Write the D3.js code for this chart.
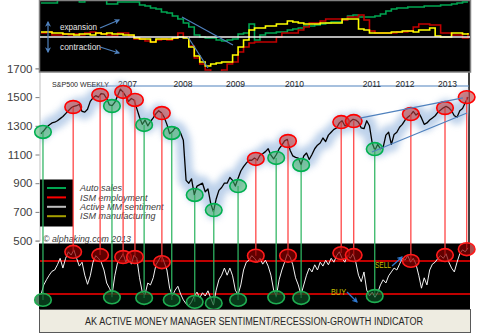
<!DOCTYPE html>
<html><head><meta charset="utf-8">
<script src="https://cdn.jsdelivr.net/npm/d3@7"></script>
<style>html,body{margin:0;padding:0;background:#fff;} svg{display:block;}</style>
</head><body><svg id="c" width="480" height="333"></svg>
<script>
// ---------------- DATA ----------------
const startYear = 2006.55;            // first sample (mid-July 2006)
// S&P 500, two samples per month
const sp500 = [1245,1265,1290,1305,1320,1325,1335,1350,1365,1385,1405,1425,1435,1440,1450,1400,1395,1415,1470,1495,
 1510,1500,1525,1520,1490,1445,1440,1465,1510,1555,1535,1505,1470,1490,1480,1420,1360,1310,1340,1300,
 1330,1355,1385,1405,1390,1360,1310,1245,1260,1285,1280,1250,1200,920,900,930,820,880,890,900,
 840,860,760,700,790,850,870,900,900,940,920,880,935,985,1015,1040,1060,1060,1075,1060,
 1095,1105,1120,1140,1095,1070,1100,1140,1165,1195,1205,1130,1090,1080,1075,1030,1090,1110,1065,1100,
 1140,1165,1180,1215,1190,1235,1255,1275,1285,1320,1335,1300,1310,1330,1345,1340,1325,1285,1280,1335,
 1300,1180,1130,1170,1140,1150,1235,1255,1170,1240,1255,1290,1310,1340,1360,1375,1400,1375,1390,1355,
 1310,1320,1340,1355,1370,1395,1410,1425,1435,1425,1405,1370,1360,1405,1420,1460,1500];
// Active money manager sentiment oscillator (0-100), same sampling
const mmSentiment = [22,37,45,52,58,60,68,78,63,78,88,83,91,78,66,72,52,38,51,72,
 82,78,72,60,40,32,23,52,72,78,85,72,82,69,83,78,48,26,22,40,
 37,48,68,75,83,72,60,32,20,29,35,23,14,8,5,11,20,26,17,25,
 20,28,17,6,29,45,52,63,52,63,51,29,22,37,60,72,75,82,78,72,
 78,69,75,66,52,29,20,45,60,72,85,80,68,48,37,22,37,52,63,57,
 68,60,72,66,75,68,78,72,82,88,78,72,83,78,85,72,52,42,57,29,
 20,26,18,25,37,45,40,51,57,63,60,69,78,75,82,72,78,69,52,32,
 48,37,60,69,72,78,82,78,85,72,63,57,72,85,91,88,94];
// Top panel indicators, one sample per month (0 = white line)
const autoSales = [34,34,34,39,39,39,39,35,39,39,39,38,33,33,35,35,35,35,32,31,
 29,28,25,24,21,18,14,10,2,0,-1,-1,-3,-4,-3,-2,3,4,13,-3,
 2,4,4,5,5,7,8,9,11,11,12,13,14,15,15,17,21,22,20,20,
 20,21,23,26,28,29,29,30,30,30,31,31,31,32,32,33,34,35,35];
const ismEmployment = [4,5,2,2,3,2,3,2,4,5,4,3,2,1,4,4,1,-2,-2,-4,
 -5,-3,-2,-3,-1,4,0,-9,-21,-27,-33,-35,-35,-33,-27,-25,-15,-10,-6,-5,
 -5,-5,-5,0,4,4,4,7,10,14,14,16,18,18,18,17,20,20,22,17,
 6,4,4,4,4,5,5,6,10,13,13,12,12,4,4,2,2,-1,4];
const ismManufacturing = [5,5,4,4,3,3,2,3,3,2,4,3,4,3,3,2,2,-1,-2,-2,
 -5,-2,-2,-2,-1,0,-1,-10,-19,-25,-29,-27,-26,-25,-25,-18,-10,-3,7,9,
 9,11,11,13,13,16,15,14,13,13,13,14,14,14,14,18,18,18,8,7,
 4,4,4,4,5,5,6,6,5,7,7,9,1,0,0,4,4,3,4];
// Signals
const signalTime = [2006.58,2007.04,2007.45,2007.63,2007.80,2007.98,2008.12,2008.39,2008.54,2008.89,2009.18,
 2009.55,2009.82,2010.13,2010.31,2010.51,2011.12,2011.31,2011.63,2012.18,2012.70,2013.03];
const signalType = ["buy","sell","sell","buy","sell","sell","buy","sell","buy","buy","buy",
 "buy","sell","buy","sell","buy","sell","sell","buy","sell","sell","sell"];
const signalSP = [1257,1431,1515,1438,1536,1480,1306,1389,1250,818,713,880,1069,1076,1194,1027,1326,1333,1138,1382,1424,1500];
const signalOsc = [14,88,83,18,80,80,17,72,14,11,9,14,82,18,82,17,86,83,20,74,83,92];
const sellLevel = 74, buyLevel = 23;
// Wedge trend lines [time, value]
const wedgeUpper = [[2011.405,1354],[2012.973,1494]];
const wedgeLower = [[2011.588,1117],[2013.034,1389]];
// Top panel trend lines [time, value]
const topTrend1 = [[2008.696,20],[2009.472,-8]];
const topTrend2 = [[2008.787,0],[2009.092,-31]];
const spTicks = [500,700,900,1100,1300,1500,1700];
const yearLabels = ["2007","2008","2009","2010","2011","2012","2013"];
const yearLabelTime = [2007.867,2008.711,2009.51,2010.408,2011.588,2012.09,2012.737];
const legendNames = ["Auto sales","ISM employment","Active MM sentiment","ISM manufacturing"];
const legendColors = ["#00a651","#ff0000","#bfbfbf","#a6a000"];

// ---------------- SCALES ----------------
const svg = d3.select("#c");
const x = d3.scaleLinear().domain([2006.55, 2013.05]).range([41, 468]);
const tS = i => startYear + i/24;
const tM = m => startYear + m/12;
const yMain = d3.scaleLinear().domain([500,1700]).range([240.6, 68.4]);
const yTop = d3.scaleLinear().domain([-35,37]).range([72,0]);
const yOsc = d3.scaleLinear().domain([0,100]).range([309,244]);

const defs = svg.append("defs");
defs.append("clipPath").attr("id","clipTop").append("rect").attr("x",40).attr("y",1).attr("width",430).attr("height",70);
defs.append("clipPath").attr("id","clipMain").append("rect").attr("x",40).attr("y",73).attr("width",429).attr("height",171);
defs.append("clipPath").attr("id","clipOsc").append("rect").attr("x",40).attr("y",244).attr("width",430).attr("height",65);
const f = defs.append("filter").attr("id","glow").attr("x","-10%").attr("y","-10%").attr("width","120%").attr("height","120%");
f.append("feGaussianBlur").attr("stdDeviation",3.2);
const mk = (id,color) => defs.append("marker").attr("id",id).attr("viewBox","0 0 10 10").attr("refX",8).attr("refY",5)
  .attr("markerWidth",5).attr("markerHeight",5).attr("orient","auto-start-reverse")
  .append("path").attr("d","M0,0 L10,5 L0,10 L3,5 Z").attr("fill",color);
mk("arr","#4f81bd"); mk("arrB","#2f78d0");

// ---------------- MAIN PANEL ----------------
svg.append("line").attr("x1",469).attr("x2",469).attr("y1",72).attr("y2",244).attr("stroke","#000").attr("stroke-width",1.5);
svg.append("line").attr("x1",90).attr("x2",469).attr("y1",86).attr("y2",86).attr("stroke","#4f81bd").attr("stroke-width",1);

// y axis
const ax = svg.append("g").attr("transform","translate(39.5,0)")
  .call(d3.axisLeft(yMain).tickValues(spTicks).tickSize(4).tickPadding(3).tickFormat(d3.format("d")));
ax.select(".domain").attr("stroke","#bfbfbf");
ax.selectAll(".tick line").attr("stroke","#7f7f7f");
ax.selectAll(".tick text").attr("font-family","Liberation Sans, Arial, sans-serif").attr("font-size",11.5).attr("fill","#404040");

// year labels
svg.append("text").attr("x",52).attr("y",84).attr("dy","0.35em").attr("text-anchor","start")
  .attr("font-family","Liberation Sans, Arial, sans-serif").attr("font-size",8).attr("fill","#262626")
  .attr("textLength",57).attr("lengthAdjust","spacingAndGlyphs").text("S&P500 WEEKLY");
svg.selectAll("text.yr").data(yearLabels).join("text").attr("class","yr")
  .attr("x",(d,i)=>x(yearLabelTime[i])).attr("y",84).attr("dy","0.35em").attr("text-anchor","middle")
  .attr("font-family","Liberation Sans, Arial, sans-serif").attr("font-size",8.5).attr("fill","#262626").text(d=>d);

const mainG = svg.append("g").attr("clip-path","url(#clipMain)");
const spLine = d3.line().x((d,i)=>x(tS(i))).y(d=>yMain(d));
mainG.append("path").attr("d",spLine(sp500)).attr("fill","none").attr("stroke","#a8c3e4")
  .attr("stroke-width",15).attr("stroke-linejoin","round").attr("stroke-linecap","round").attr("opacity",0.75).attr("filter","url(#glow)");

// legend
svg.append("rect").attr("x",40).attr("y",179.5).attr("width",33).attr("height",47).attr("fill","#000");
legendNames.forEach((n,i)=>{
  const yy = 188 + i*9.4;
  svg.append("line").attr("x1",47).attr("x2",66).attr("y1",yy).attr("y2",yy).attr("stroke",legendColors[i]).attr("stroke-width",2);
  svg.append("text").attr("x",80).attr("y",yy).attr("dy","0.35em").attr("font-family","Liberation Sans, Arial, sans-serif")
    .attr("font-style","italic").attr("font-size",9).attr("fill","#404040").text(n);
});
svg.append("text").attr("x",43).attr("y",239).attr("dy","0.35em").attr("font-family","Liberation Sans, Arial, sans-serif")
  .attr("font-style","italic").attr("font-size",9.5).attr("fill","#404040").attr("textLength",88).attr("lengthAdjust","spacingAndGlyphs")
  .text("\u00a9 alphaking.com 2013");

// ---------------- BOTTOM PANEL ----------------
svg.append("rect").attr("x",39).attr("y",243.5).attr("width",431).attr("height",66).attr("fill","#000");
[sellLevel,buyLevel].forEach(v=>{
  svg.append("line").attr("x1",40).attr("x2",470).attr("y1",yOsc(v)).attr("y2",yOsc(v)).attr("stroke","#ff0000").attr("stroke-width",1.5);
});
const oscLine = d3.line().x((d,i)=>x(tS(i))).y(d=>yOsc(d));
svg.append("g").attr("clip-path","url(#clipOsc)").append("path").attr("d",oscLine(mmSentiment))
  .attr("fill","none").attr("stroke","#f2f2f2").attr("stroke-width",1);

// signal connector lines
const sig = signalTime.map((t,i)=>({t, type:signalType[i], sp:signalSP[i], osc:signalOsc[i]}));
svg.selectAll("line.sig").data(sig).join("line").attr("class","sig")
  .attr("x1",d=>x(d.t)).attr("x2",d=>x(d.t)).attr("y1",d=>yMain(d.sp)).attr("y2",d=>yOsc(d.osc))
  .attr("stroke",d=>d.type==="sell"?"#ff4040":"#2fb562").attr("stroke-width",1.4).attr("opacity",0.9);

// S&P line on top of connectors
mainG.append("path").attr("d",spLine(sp500)).attr("fill","none").attr("stroke","#000").attr("stroke-width",1.3).attr("stroke-linejoin","round");

// main circles
svg.selectAll("ellipse.m").data(sig).join("ellipse").attr("class","m")
  .attr("cx",d=>x(d.t)).attr("cy",d=>yMain(d.sp)).attr("rx",8.3).attr("ry",6.4)
  .attr("fill",d=>d.type==="sell"?"rgba(192,64,64,0.6)":"rgba(60,175,100,0.55)")
  .attr("stroke",d=>d.type==="sell"?"#ff0000":"#00b050").attr("stroke-width",1.6);
// bottom circles
svg.selectAll("ellipse.b").data(sig).join("ellipse").attr("class","b")
  .attr("cx",d=>x(d.t)).attr("cy",d=>yOsc(d.osc)).attr("rx",8.3).attr("ry",6.4)
  .attr("fill",d=>d.type==="sell"?"rgba(140,0,0,0.7)":"rgba(10,80,35,0.7)")
  .attr("stroke",d=>d.type==="sell"?"#ff1a1a":"#1fae52").attr("stroke-width",1.6);

// wedge
[wedgeUpper,wedgeLower].forEach(w=>{
  svg.append("line").attr("x1",x(w[0][0])).attr("y1",yMain(w[0][1])).attr("x2",x(w[1][0])).attr("y2",yMain(w[1][1]))
    .attr("stroke","#4f81bd").attr("stroke-width",1.2);
});

// SELL / BUY annotations
svg.append("text").attr("x",375).attr("y",265).attr("dy","0.35em").attr("font-family","Liberation Sans, Arial, sans-serif")
  .attr("font-size",8.5).attr("fill","#c8c000").attr("textLength",16).attr("lengthAdjust","spacingAndGlyphs").text("SELL");
svg.append("line").attr("x1",392).attr("y1",266).attr("x2",402).attr("y2",257).attr("stroke","#2f78d0").attr("stroke-width",1.2).attr("marker-end","url(#arrB)");
svg.append("text").attr("x",331).attr("y",292).attr("dy","0.35em").attr("font-family","Liberation Sans, Arial, sans-serif")
  .attr("font-size",8.5).attr("fill","#c8c000").attr("textLength",15).attr("lengthAdjust","spacingAndGlyphs").text("BUY");
svg.append("line").attr("x1",347).attr("y1",292).attr("x2",357).attr("y2",302).attr("stroke","#2f78d0").attr("stroke-width",1.2).attr("marker-end","url(#arrB)");

// title box
svg.append("rect").attr("x",39.5).attr("y",309.5).attr("width",431).attr("height",23).attr("fill","#eeece1").attr("stroke","#595959").attr("stroke-width",1);
svg.append("text").attr("x",254).attr("y",321).attr("dy","0.35em").attr("text-anchor","middle")
  .attr("font-family","Liberation Sans, Arial, sans-serif").attr("font-size",10).attr("fill","#262626")
  .attr("textLength",338).attr("lengthAdjust","spacingAndGlyphs")
  .text("AK ACTIVE MONEY MANAGER SENTIMENT/RECESSION-GROWTH INDICATOR");

// ---------------- TOP PANEL ----------------
svg.append("rect").attr("x",39.5).attr("y",0.5).attr("width",431).attr("height",71.5).attr("fill","#000").attr("stroke","#808080").attr("stroke-width",1.5);
const topG = svg.append("g").attr("clip-path","url(#clipTop)");
const stepLine = d3.line().x((d,i)=>x(tM(i))).y(d=>yTop(d)).curve(d3.curveStepAfter);
topG.append("path").attr("d",stepLine(autoSales)).attr("fill","none").attr("stroke","#00a651").attr("stroke-width",1.6);
topG.append("path").attr("d",stepLine(ismEmployment)).attr("fill","none").attr("stroke","#c00000").attr("stroke-width",1.6);
topG.append("path").attr("d",stepLine(ismManufacturing)).attr("fill","none").attr("stroke","#ffff00").attr("stroke-width",1.6);
topG.append("line").attr("x1",40).attr("x2",470).attr("y1",yTop(0)).attr("y2",yTop(0)).attr("stroke","#f2f2f2").attr("stroke-width",1.5);
[topTrend1,topTrend2].forEach(w=>{
  topG.append("line").attr("x1",x(w[0][0])).attr("y1",yTop(w[0][1])).attr("x2",x(w[1][0])).attr("y2",yTop(w[1][1]))
    .attr("stroke","#4f81bd").attr("stroke-width",1.2);
});
svg.append("line").attr("x1",48).attr("x2",48).attr("y1",22).attr("y2",52).attr("stroke","#4f81bd").attr("stroke-width",1.2)
  .attr("marker-start","url(#arr)").attr("marker-end","url(#arr)");
svg.append("text").attr("x",60).attr("y",27).attr("dy","0.35em").attr("font-family","Liberation Sans, Arial, sans-serif")
  .attr("font-size",8.5).attr("fill","#e6e6e6").attr("textLength",37).attr("lengthAdjust","spacingAndGlyphs").text("expansion");
svg.append("text").attr("x",60).attr("y",47).attr("dy","0.35em").attr("font-family","Liberation Sans, Arial, sans-serif")
  .attr("font-size",8.5).attr("fill","#e6e6e6").attr("textLength",41).attr("lengthAdjust","spacingAndGlyphs").text("contraction");
svg.append("line").attr("x1",100).attr("y1",28).attr("x2",119).attr("y2",20).attr("stroke","#4f81bd").attr("stroke-width",1.2).attr("marker-end","url(#arr)");
svg.append("line").attr("x1",100).attr("y1",47).attr("x2",119).attr("y2",53).attr("stroke","#4f81bd").attr("stroke-width",1.2).attr("marker-end","url(#arr)");
</script></body></html>
